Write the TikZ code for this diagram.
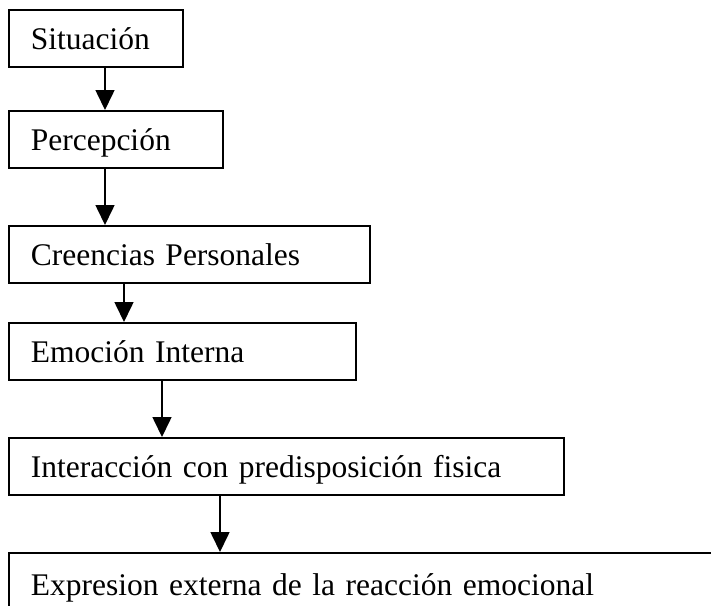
\documentclass[tikz,border=0pt]{standalone}
\usepackage{fontspec}
\setmainfont[WordSpace=0.75]{Liberation Serif}
\usetikzlibrary{arrows.meta}

\begin{document}
\begin{tikzpicture}[
        x=1pt, y=-1pt,
        caja/.style={draw, rectangle, line width=1.6pt, anchor=north west,
          inner xsep=22pt, inner ysep=0pt, minimum height=57pt, align=left,
          text height=24pt, text depth=2pt, font=\fontsize{31.5}{38}\selectfont},
        flecha/.style={draw, line width=1.6pt, -{Triangle[width=19pt, length=20pt]}}
      ]
      \useasboundingbox (0,0) rectangle (711,605);
      \clip (0,0) rectangle (711,605);

      % Nodes
      \node[caja, text width=130pt] (sit) at (8,9) {Situación};
      \node[caja, text width=170pt] (perc) at (8,110) {Percepción};
      \node[caja, text width=317pt] (cree) at (8,225) {Creencias Personales};
      \node[caja, text width=303pt] (emo) at (8,322) {Emoción Interna};
      \node[caja, text width=511pt] (inter) at (8,437) {Interacción con predisposición fisica};
      \node[caja, text width=676pt, text height=30pt] (expr) at (8,552) {Expresion externa de la reacción emocional};

      % Arrows
      \draw[flecha] ([xshift=97pt]sit.south west) -- ([xshift=97pt]perc.north west);
      \draw[flecha] ([xshift=97pt]perc.south west) -- ([xshift=97pt]cree.north west);
      \draw[flecha] ([xshift=116pt]cree.south west) -- ([xshift=116pt]emo.north west);
      \draw[flecha] ([xshift=154pt]emo.south west) -- ([xshift=154pt]inter.north west);
      \draw[flecha] ([xshift=212pt]inter.south west) -- ([xshift=212pt]expr.north west);
    \end{tikzpicture}
\end{document}
